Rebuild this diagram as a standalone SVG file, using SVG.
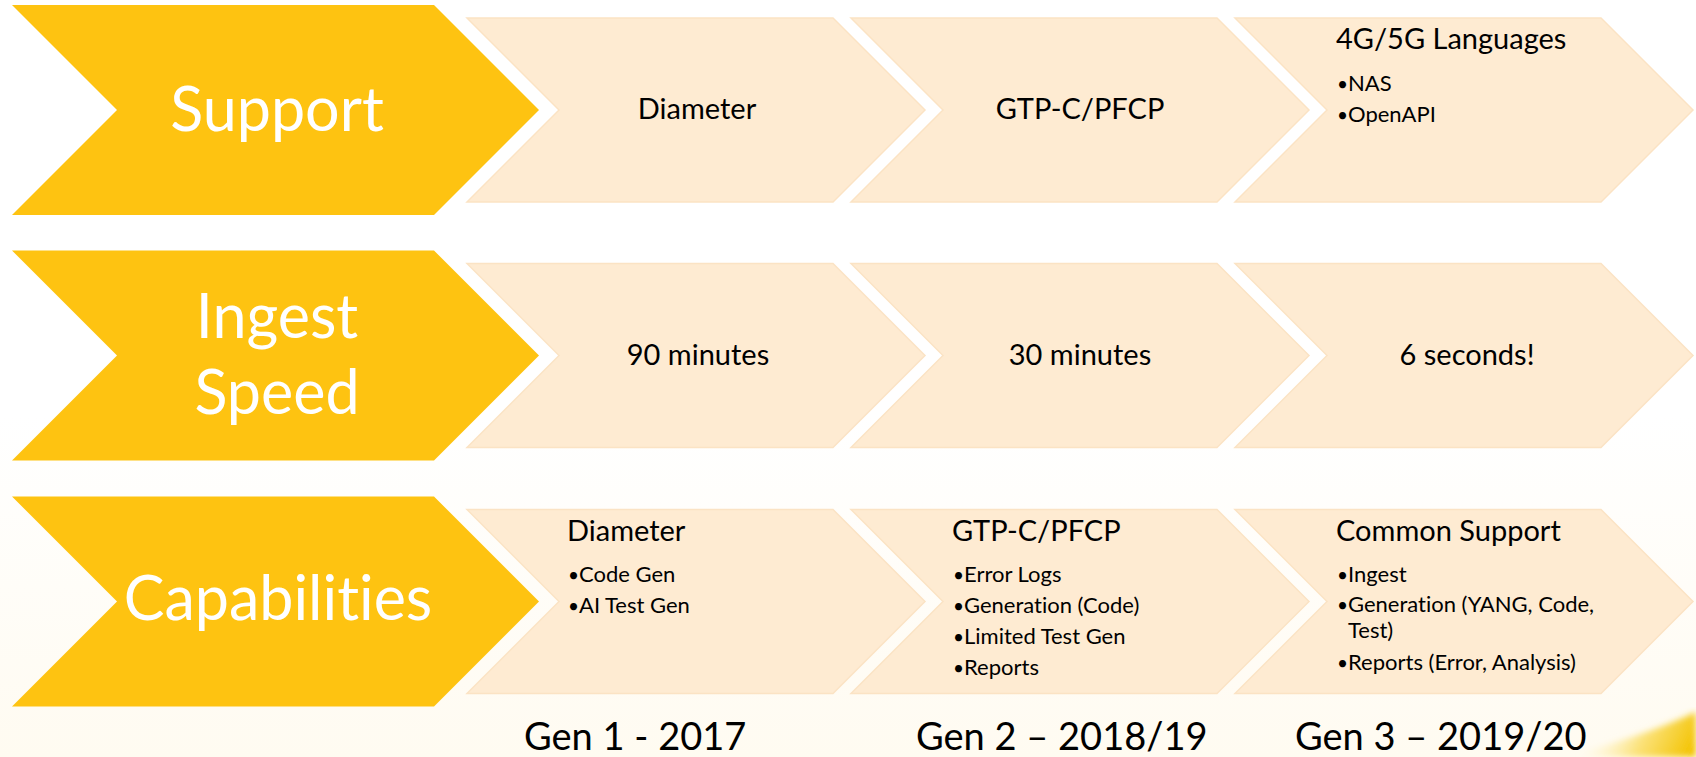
<svg xmlns="http://www.w3.org/2000/svg" xmlns:xlink="http://www.w3.org/1999/xlink" width="1696" height="757" viewBox="0 0 1696 757">
  <style>
    text { font-family: Lato, "Open Sans", sans-serif; font-variant-ligatures: none; font-feature-settings: "liga" 0, "clig" 0; }
    .head { fill: #FEC311; }
    .step { fill: #FEEBD2; stroke: #FBE3C4; stroke-width: 1.5; }
    .lbl { font-size: 61px; fill: #FFFFFF; text-anchor: middle; }
    .mid { font-size: 29px; fill: #000000; text-anchor: middle; }
    .hd { font-size: 29px; fill: #000000; }
    .bl { font-size: 22px; fill: #000000; }
    .dot { font-size: 19px; fill: #000000; }
    .gen { font-size: 38px; fill: #000000; }
  </style>
  <defs>
    <!-- row header: 45-degree chevron, 527 wide, 210 high -->
    <polygon id="headChevron" points="0,0 422,0 527,105 422,210 0,210 105,105"/>
    <!-- generation step: 45-degree chevron, 458 wide, 184 high -->
    <polygon id="stepChevron" points="0,0 366,0 458,92 366,184 0,184 92,92"/>
    <linearGradient id="paper" x1="0" y1="0" x2="0" y2="1">
      <stop offset="0" stop-color="#FFFFFF"/>
      <stop offset="0.55" stop-color="#FFFFFF"/>
      <stop offset="1" stop-color="#FFFBF1"/>
    </linearGradient>
    <linearGradient id="glow" gradientUnits="userSpaceOnUse" x1="1600" y1="712" x2="1690" y2="757">
      <stop offset="0" stop-color="#FFF4C8" stop-opacity="0"/>
      <stop offset="0.5" stop-color="#FBE27A"/>
      <stop offset="1" stop-color="#F3C300"/>
    </linearGradient>
    <filter id="soft" x="-10%" y="-10%" width="120%" height="120%">
      <feGaussianBlur stdDeviation="3"/>
    </filter>
  </defs>

  <!-- background -->
  <rect x="0" y="0" width="1696" height="757" fill="url(#paper)"/>
  <path d="M1560,757 Q1640,738 1696,712 L1696,757 Z" fill="url(#glow)" filter="url(#soft)"/>

  <!-- row 1: Support -->
  <g id="support">
    <use href="#headChevron" class="head" x="12" y="5"/>
    <text class="lbl" x="277" y="131">Support</text>
  </g>
  <g id="support-gen1">
    <use href="#stepChevron" class="step" x="467" y="18"/>
    <text class="mid" x="697" y="119">Diameter</text>
  </g>
  <g id="support-gen2">
    <use href="#stepChevron" class="step" x="851" y="18"/>
    <text class="mid" x="1080" y="119">GTP-C/PFCP</text>
  </g>
  <g id="support-gen3">
    <use href="#stepChevron" class="step" x="1235" y="18"/>
    <text class="hd" x="1336" y="49">4G/5G Languages</text>
    <text class="dot" x="1337" y="91">•</text><text class="bl" x="1348" y="91">NAS</text>
    <text class="dot" x="1337" y="122">•</text><text class="bl" x="1348" y="122">OpenAPI</text>
  </g>

  <!-- row 2: Ingest Speed -->
  <g id="ingest-speed">
    <use href="#headChevron" class="head" x="12" y="250.5"/>
    <text class="lbl" x="277" y="338">Ingest</text>
    <text class="lbl" x="277" y="414">Speed</text>
  </g>
  <g id="ingest-gen1">
    <use href="#stepChevron" class="step" x="467" y="263.5"/>
    <text class="mid" x="698" y="365">90 minutes</text>
  </g>
  <g id="ingest-gen2">
    <use href="#stepChevron" class="step" x="851" y="263.5"/>
    <text class="mid" x="1080" y="365">30 minutes</text>
  </g>
  <g id="ingest-gen3">
    <use href="#stepChevron" class="step" x="1235" y="263.5"/>
    <text class="mid" x="1467" y="365">6 seconds!</text>
  </g>

  <!-- row 3: Capabilities -->
  <g id="capabilities">
    <use href="#headChevron" class="head" x="12" y="496.5"/>
    <text class="lbl" x="278" y="620">Capabilities</text>
  </g>
  <g id="capabilities-gen1">
    <use href="#stepChevron" class="step" x="467" y="509.5"/>
    <text class="hd" x="567" y="541">Diameter</text>
    <text class="dot" x="568" y="582">•</text><text class="bl" x="579" y="582">Code Gen</text>
    <text class="dot" x="568" y="613">•</text><text class="bl" x="579" y="613">AI Test Gen</text>
  </g>
  <g id="capabilities-gen2">
    <use href="#stepChevron" class="step" x="851" y="509.5"/>
    <text class="hd" x="952" y="541">GTP-C/PFCP</text>
    <text class="dot" x="953" y="582">•</text><text class="bl" x="964" y="582">Error Logs</text>
    <text class="dot" x="953" y="613">•</text><text class="bl" x="964" y="613">Generation (Code)</text>
    <text class="dot" x="953" y="644">•</text><text class="bl" x="964" y="644">Limited Test Gen</text>
    <text class="dot" x="953" y="675">•</text><text class="bl" x="964" y="675">Reports</text>
  </g>
  <g id="capabilities-gen3">
    <use href="#stepChevron" class="step" x="1235" y="509.5"/>
    <text class="hd" x="1336" y="541">Common Support</text>
    <text class="dot" x="1337" y="582">•</text><text class="bl" x="1348" y="582">Ingest</text>
    <text class="dot" x="1337" y="612">•</text><text class="bl" x="1348" y="612">Generation (YANG, Code,</text>
    <text class="bl" x="1348" y="638">Test)</text>
    <text class="dot" x="1337" y="670">•</text><text class="bl" x="1348" y="670">Reports (Error, Analysis)</text>
  </g>

  <!-- generation captions -->
  <g id="captions">
    <text class="gen" x="524" y="750">Gen 1 - 2017</text>
    <text class="gen" x="916" y="750">Gen 2 – 2018/19</text>
    <text class="gen" x="1295" y="750">Gen 3 – 2019/20</text>
  </g>
</svg>
